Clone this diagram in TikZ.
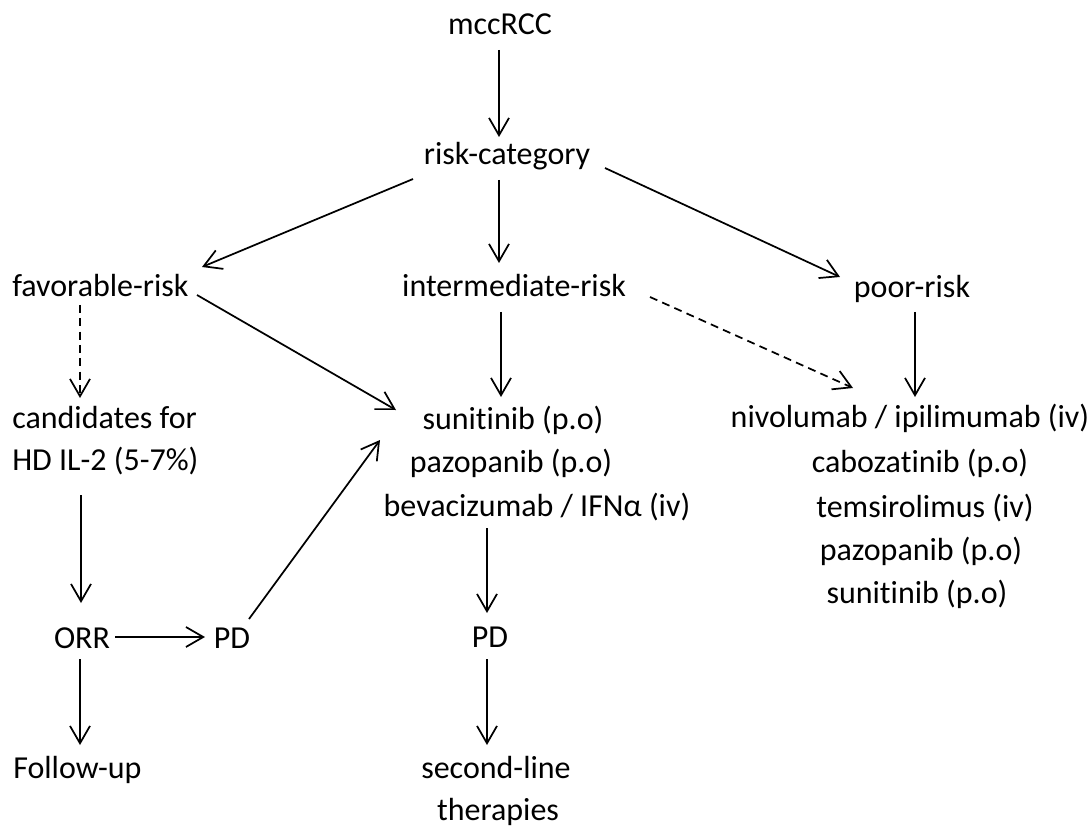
\documentclass[tikz,border=0pt]{standalone}
\usepackage{fontspec}
\setmainfont{Carlito}[Ligatures={NoCommon,NoRequired,NoContextual}]
\usetikzlibrary{arrows.meta,calc}
\begin{document}
\begin{tikzpicture}[x=0.75pt,y=-0.75pt,
  lbl/.style={inner sep=0pt,anchor=base,font=\fontsize{24}{28}\selectfont},
  lblw/.style={lbl,anchor=base west},
  arr/.style={line width=1.3pt,-{Straight Barb[length=13pt,width=15pt,line width=1.3pt]}},
  darr/.style={arr,dash pattern=on 6pt off 4pt}]
\useasboundingbox (0,0) rectangle (1089,827);
% nodes
\node[lbl] (mcc) at (500,35) {mccRCC};
\node[lbl] (risk) at (507,165) {risk-category};
\node[lblw] (fav) at (12,297) {favorable-risk};
\node[lbl] (inter) at (514,297) {intermediate-risk};
\node[lbl] (poor) at (912,298) {poor-risk};
\node[lblw] (cand1) at (12,428) {candidates for};
\node[lblw] (cand2) at (12,470) {HD IL-2 (5-7\%)};
\node[lbl] (sun1) at (513,429) {sunitinib (p.o)};
\node[lbl] (sun2) at (511,472) {pazopanib (p.o)};
\node[lbl] (sun3) at (537,516) {bevacizumab / IFNα (iv)};
\node[lbl] (nivo1) at (910,427) {nivolumab / ipilimumab (iv)};
\node[lbl] (nivo2) at (920,472) {cabozatinib (p.o)};
\node[lbl] (nivo3) at (925,517) {temsirolimus (iv)};
\node[lbl] (nivo4) at (921,560) {pazopanib (p.o)};
\node[lbl] (nivo5) at (917,603) {sunitinib (p.o)};
\node[lbl] (orr) at (82,648) {ORR};
\node[lbl] (pd1) at (232,648) {PD};
\node[lbl] (pd2) at (490,647) {PD};
\node[lblw] (follow) at (13,778) {Follow-up};
\node[lbl] (sec1) at (496,778) {second-line};
\node[lbl] (sec2) at (498,820) {therapies};
% connectors
\draw[arr] ($(mcc.base)+(-1,15)$) -- ($(risk.base)+(-8,-28)$);
\draw[arr] ($(risk.base)+(-94,14)$) -- ($(fav.base west)+(190,-30)$);
\draw[arr] ($(risk.base)+(-8,15)$) -- ($(inter.base)+(-15,-34)$);
\draw[arr] ($(risk.base)+(98,3)$) -- ($(poor.base)+(-72,-21)$);
\draw[darr] ($(fav.base west)+(68,8)$) -- ($(cand1.base west)+(68,-30)$);
\draw[arr] ($(fav.base west)+(185,-2)$) -- ($(sun1.base)+(-117,-19)$);
\draw[arr] ($(inter.base)+(-13,15)$) -- ($(sun1.base)+(-12,-32)$);
\draw[darr] ($(inter.base)+(136,0)$) -- ($(nivo1.base)+(-57,-39)$);
\draw[arr] ($(poor.base)+(3,14)$) -- ($(nivo1.base)+(5,-30)$);
\draw[arr] ($(cand2.base west)+(69,25)$) -- ($(orr.base)+(-1,-45)$);
\draw[arr] ($(orr.base)+(33,-11)$) -- ($(pd1.base)+(-27,-11)$);
\draw[arr] ($(orr.base)+(-2,11)$) -- ($(follow.base west)+(67,-33)$);
\draw[arr] ($(pd1.base)+(17,-29)$) -- ($(sun1.base)+(-133,11)$);
\draw[arr] ($(sun3.base)+(-50,12)$) -- ($(pd2.base)+(-3,-34)$);
\draw[arr] ($(pd2.base)+(-3,12)$) -- ($(sec1.base)+(-9,-33)$);
\end{tikzpicture}
\end{document}
